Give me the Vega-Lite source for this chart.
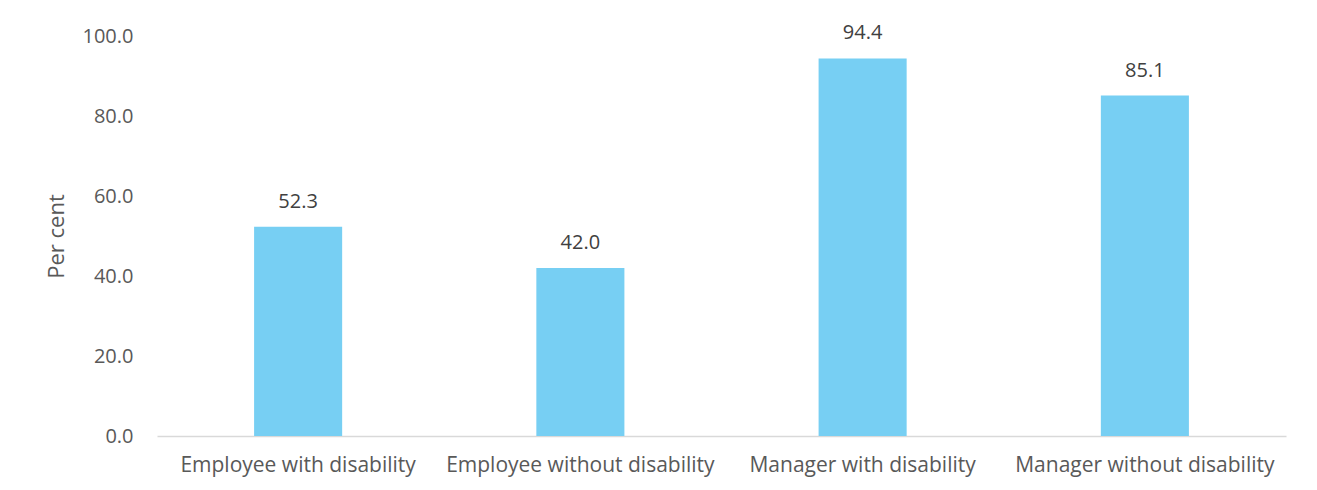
{
  "$schema": "https://vega.github.io/schema/vega-lite/v6.json",
  "autosize": {"type": "none"},
  "width": 1129,
  "height": 400,
  "padding": {"left": 157, "top": 36, "right": 31, "bottom": 54},
  "background": "white",
  "data": {"values": [
    {"group": "Employee with disability", "value": 52.3},
    {"group": "Employee without disability", "value": 42.0},
    {"group": "Manager with disability", "value": 94.4},
    {"group": "Manager without disability", "value": 85.1}
  ]},
  "encoding": {
    "x": {"field": "group", "type": "nominal", "sort": null,
      "scale": {"paddingInner": 0.688, "paddingOuter": 0.344},
      "axis": {"title": null, "labelAngle": 0, "labelFont": "Open Sans", "labelFontSize": 21, "labelColor": "#595959", "labelLimit": 0,
        "labelPadding": 18, "ticks": false, "domainColor": "#d9d9d9", "domainWidth": 1.5, "grid": false}},
    "y": {"field": "value", "type": "quantitative",
      "scale": {"domain": [0, 100], "nice": false},
      "axis": {"title": "Per cent", "titleFont": "Open Sans", "titleFontSize": 22, "titleFontWeight": "normal", "titleColor": "#595959",
        "titlePadding": 14, "values": [0, 20, 40, 60, 80, 100], "format": ".1f", "labelFont": "Open Sans", "labelFontSize": 20,
        "labelColor": "#595959", "labelPadding": 24, "ticks": false, "domain": false, "grid": false}}
  },
  "layer": [
    {"mark": {"type": "bar", "color": "#77CFF3"}},
    {"mark": {"type": "text", "baseline": "bottom", "dy": -15, "font": "Open Sans", "fontSize": 20, "color": "#404040"},
      "encoding": {"text": {"field": "value", "type": "quantitative", "format": ".1f"}}}
  ],
  "config": {"view": {"stroke": null}}
}
